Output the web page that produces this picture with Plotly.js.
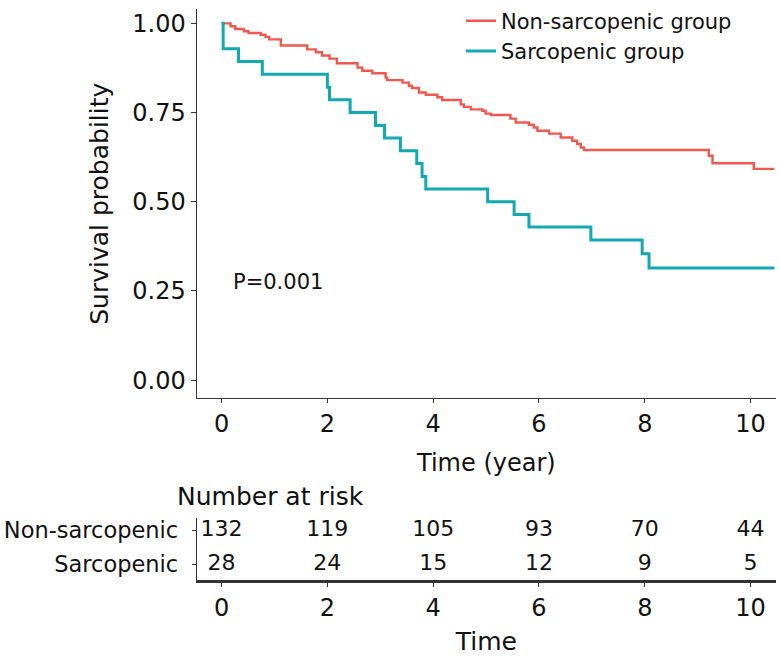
<!DOCTYPE html>
<html><head><meta charset="utf-8">
<script src="https://cdn.plot.ly/plotly-3.0.1.min.js"></script>
<style>html,body{margin:0;padding:0;background:#fff}#chart{width:781px;height:663px}</style>
</head><body><div id="chart"></div>
<script>
// Kaplan-Meier step data
const groupNames = ['Non-sarcopenic group', 'Sarcopenic group'];
const nonTime = [0, 0.17, 0.26, 0.42, 0.51, 0.74, 0.83, 0.90, 1.12, 1.62, 1.78, 1.90, 2.04, 2.18, 2.57, 2.66, 2.85, 3.10, 3.13, 3.42, 3.54, 3.60, 3.73, 3.86, 4.08, 4.17, 4.52, 4.58, 4.71, 4.93, 4.99, 5.09, 5.46, 5.56, 5.81, 5.90, 5.97, 6.19, 6.41, 6.63, 6.72, 6.79, 6.85, 9.21, 9.28, 10.06, 10.45];
const nonSurv = [1, 0.992, 0.984, 0.978, 0.973, 0.968, 0.962, 0.955, 0.938, 0.927, 0.919, 0.910, 0.901, 0.888, 0.876, 0.867, 0.860, 0.848, 0.841, 0.834, 0.825, 0.819, 0.806, 0.800, 0.793, 0.785, 0.773, 0.766, 0.759, 0.755, 0.747, 0.743, 0.733, 0.722, 0.716, 0.708, 0.699, 0.691, 0.680, 0.671, 0.662, 0.652, 0.645, 0.629, 0.608, 0.592, 0.592];
const sarcTime = [0, 0.03, 0.32, 0.77, 2.00, 2.04, 2.43, 2.91, 3.08, 3.38, 3.69, 3.79, 3.86, 5.03, 5.53, 5.81, 6.98, 7.95, 8.08, 10.45];
const sarcSurv = [1, 0.929, 0.893, 0.857, 0.821, 0.786, 0.750, 0.714, 0.679, 0.643, 0.607, 0.571, 0.536, 0.500, 0.464, 0.429, 0.393, 0.354, 0.314, 0.314];

// Number-at-risk table
const riskLabels = ['Non-sarcopenic', 'Sarcopenic'];
const riskTimes = [0, 2, 4, 6, 8, 10];
const riskNon = [132, 119, 105, 93, 70, 44];
const riskSarc = [28, 24, 15, 12, 9, 5];

// Ticks
const xTicks = [0, 2, 4, 6, 8, 10];
const yTicks = [0, 0.25, 0.5, 0.75, 1];
const yTickText = ['0.00', '0.25', '0.50', '0.75', '1.00'];

const FONT = 'DejaVu Sans, Arial, sans-serif';
const INK = '#111111';
const AXC = '#333333';
const RED = '#EE5A4F';
const TEAL = '#14A8B0';

const traces = [
  {x: nonTime, y: nonSurv, type: 'scatter', mode: 'lines', line: {shape: 'hv', color: RED, width: 2.4},
   name: groupNames[0], legendgroup: 'a', xaxis: 'x', yaxis: 'y', hoverinfo: 'skip'},
  {x: sarcTime, y: sarcSurv, type: 'scatter', mode: 'lines', line: {shape: 'hv', color: TEAL, width: 3},
   name: groupNames[1], legendgroup: 'b', xaxis: 'x', yaxis: 'y', hoverinfo: 'skip'},
  {x: riskTimes, y: riskTimes.map(() => riskLabels[0]), text: riskNon.map(String), type: 'scatter', mode: 'text',
   textposition: 'middle center', textfont: {family: FONT, size: 22, color: INK}, xaxis: 'x2', yaxis: 'y2',
   showlegend: false, hoverinfo: 'skip'},
  {x: riskTimes, y: riskTimes.map(() => riskLabels[1]), text: riskSarc.map(String), type: 'scatter', mode: 'text',
   textposition: 'middle center', textfont: {family: FONT, size: 22, color: INK}, xaxis: 'x2', yaxis: 'y2',
   showlegend: false, hoverinfo: 'skip'}
];

const xDom = [196.7 / 781, 776 / 781];
const xRange = [-0.47, 10.48];

const layout = {
  width: 781, height: 663,
  margin: {l: 0, r: 0, t: 0, b: 0},
  paper_bgcolor: '#ffffff', plot_bgcolor: '#ffffff',
  font: {family: FONT, color: INK},
  showlegend: true,
  legend: {x: 461 / 781, y: 0.999, xanchor: 'left', yanchor: 'top', bgcolor: 'rgba(0,0,0,0)',
           font: {family: FONT, size: 21, color: INK}, tracegroupgap: 3, traceorder: 'normal'},
  xaxis: {domain: xDom, range: xRange, anchor: 'y', showline: true, linecolor: AXC, linewidth: 1.3,
          ticks: 'outside', ticklen: 4, tickwidth: 1.3, tickcolor: AXC, tickvals: xTicks,
          tickfont: {family: FONT, size: 24, color: INK}, showgrid: false, zeroline: false,
          title: {text: 'Time (year)', font: {family: FONT, size: 24, color: INK}, standoff: 16}},
  yaxis: {domain: [0.3992, 0.9863], range: [-0.051, 1.04], anchor: 'x', showline: true, linecolor: AXC, linewidth: 1.3,
          ticks: 'outside', ticklen: 5, tickwidth: 1.3, tickcolor: AXC, tickvals: yTicks, ticktext: yTickText,
          tickfont: {family: FONT, size: 24, color: INK}, showgrid: false, zeroline: false,
          title: {text: 'Survival probability', font: {family: FONT, size: 25, color: INK}, standoff: 16}},
  xaxis2: {domain: xDom, range: xRange, anchor: 'y2', showline: true, linecolor: AXC, linewidth: 2.6,
           ticks: 'outside', ticklen: 4, tickwidth: 1.3, tickcolor: AXC, tickvals: xTicks,
           tickfont: {family: FONT, size: 24, color: INK}, showgrid: false, zeroline: false,
           title: {text: 'Time', font: {family: FONT, size: 25, color: INK}, standoff: 12}},
  yaxis2: {domain: [0.1252, 0.2187], anchor: 'x2', type: 'category', categoryorder: 'array',
           categoryarray: [riskLabels[1], riskLabels[0]], range: [-0.47, 1.36], showline: true, linecolor: AXC,
           linewidth: 1, ticks: 'outside', ticklen: 4, tickwidth: 1, tickcolor: AXC, ticklabelstandoff: 9,
           tickfont: {family: FONT, size: 22.5, color: INK}, showgrid: false, zeroline: false},
  annotations: [
    {text: 'P=0.001', xref: 'x', yref: 'y', x: 0.17, y: 0.274, xanchor: 'left', yanchor: 'middle',
     showarrow: false, font: {family: FONT, size: 21, color: INK}},
    {text: 'Number at risk', xref: 'paper', yref: 'paper', x: 175 / 781, y: 1 - 496 / 663, xanchor: 'left',
     yanchor: 'middle', showarrow: false, font: {family: FONT, size: 25, color: INK}}
  ]
};

Plotly.newPlot('chart', traces, layout, {displayModeBar: false, responsive: false});
</script>
</body></html>
